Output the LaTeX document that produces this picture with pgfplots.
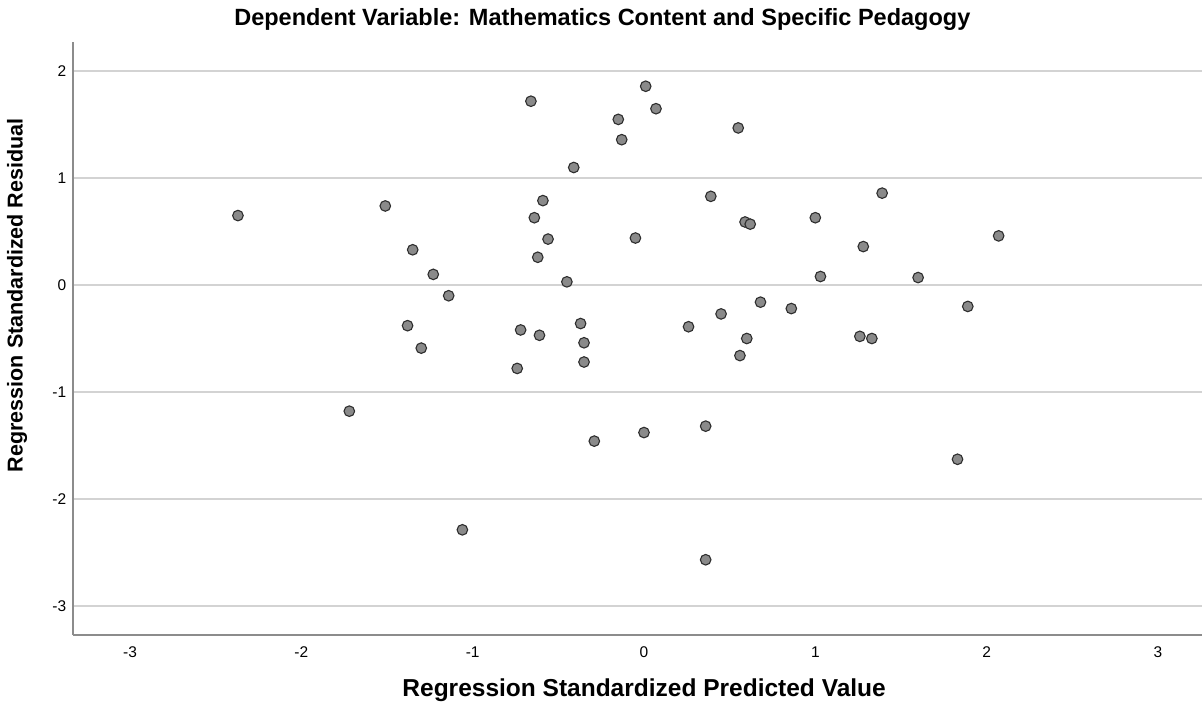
\documentclass[border=0pt]{standalone}
\usepackage{pgfplots}
\pgfplotsset{compat=1.18}
\usepackage{fontspec}
\setmainfont{Liberation Sans}
\definecolor{gridc}{HTML}{D3D3D3}
\definecolor{axc}{HTML}{8C8C8C}
\definecolor{markfill}{HTML}{8A8A8A}
\definecolor{markedge}{HTML}{2E2E2E}
\begin{document}
\begin{tikzpicture}[x=1pt,y=1pt]
\useasboundingbox (0,0) rectangle (1202,707);
\begin{axis}[
  at={(72.7pt,72pt)}, anchor=south west,
  scale only axis,
  width=1129.3pt, height=593pt,
  xmin=-3.3345, xmax=3.257,
  ymin=-3.274, ymax=2.274,
  axis x line*=bottom, axis y line*=left,
  axis line style={draw=axc, line width=1.8pt, -},
  xtick={-3,-2,-1,0,1,2,3},
  ytick={-3,-2,-1,0,1,2},
  major tick length=0pt,
  ymajorgrids,
  major grid style={draw=gridc, line width=1.6pt},
  /pgf/number format/assume math mode=true,
  tick label style={font=\fontsize{15.5}{18}\selectfont, text=black},
  xticklabel style={yshift=-8pt},
  yticklabel style={xshift=-3pt},
  xlabel={\textbf{Regression Standardized Predicted Value}},
  ylabel={\textbf{Regression Standardized Residual}},
  xlabel style={font=\fontsize{24.5}{28}\selectfont, at={(axis description cs:0.506,0)}, anchor=center, yshift=-55pt},
  ylabel style={font=\fontsize{21.5}{25}\selectfont, at={(axis description cs:-0.0493,0.573)}, anchor=center},
  title={\textbf{Dependent Variable: Mathematics Content and Specific Pedagogy}},
  title style={font=\fontsize{23.5}{27}\selectfont, at={(axis description cs:0.469,1)}, anchor=center, yshift=17pt},
  clip=false,
]
\addplot[only marks, mark=*, mark size=5.3pt,
  mark options={fill=markfill, draw=markedge, line width=1.1pt}]
  table[row sep=\\]{
x y\\
-2.37 0.65\\
-1.51 0.74\\
-1.35 0.33\\
-1.23 0.10\\
-1.14 -0.10\\
-1.38 -0.38\\
-1.30 -0.59\\
-1.72 -1.18\\
-1.06 -2.29\\
-0.66 1.72\\
-0.64 0.63\\
-0.59 0.79\\
-0.56 0.43\\
-0.62 0.26\\
-0.61 -0.47\\
-0.72 -0.42\\
-0.74 -0.78\\
-0.41 1.10\\
-0.45 0.03\\
-0.37 -0.36\\
-0.35 -0.54\\
-0.35 -0.72\\
-0.29 -1.46\\
0.01 1.86\\
0.07 1.65\\
-0.15 1.55\\
-0.13 1.36\\
-0.05 0.44\\
0.00 -1.38\\
0.26 -0.39\\
0.45 -0.27\\
0.39 0.83\\
0.36 -1.32\\
0.36 -2.57\\
0.55 1.47\\
0.59 0.59\\
0.62 0.57\\
0.60 -0.50\\
0.56 -0.66\\
0.68 -0.16\\
0.86 -0.22\\
1.00 0.63\\
1.03 0.08\\
1.26 -0.48\\
1.33 -0.50\\
1.28 0.36\\
1.39 0.86\\
1.60 0.07\\
1.89 -0.20\\
1.83 -1.63\\
2.07 0.46\\
};
\end{axis}
\end{tikzpicture}
\end{document}
